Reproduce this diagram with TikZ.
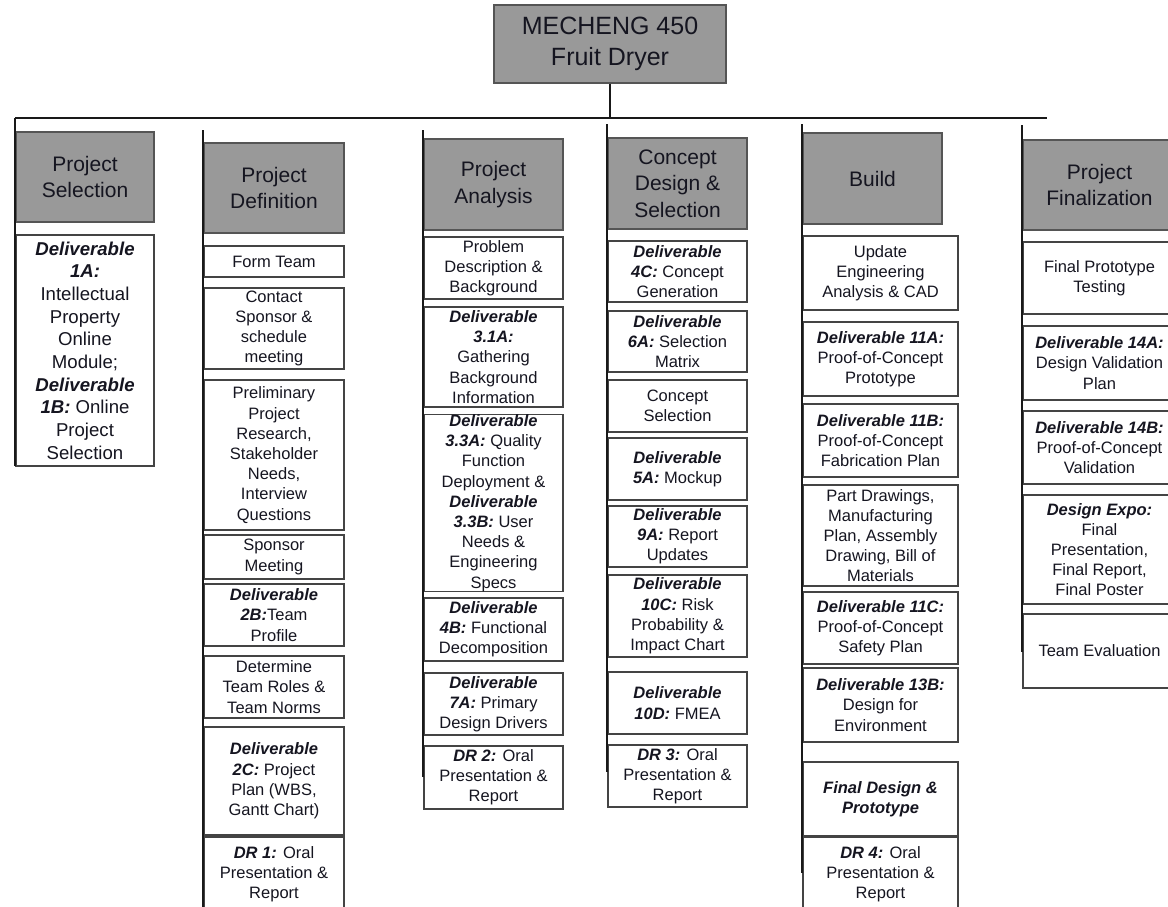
\documentclass[tikz,border=0pt]{standalone}
\usepackage{fontspec}
\setmainfont{Liberation Sans}
\definecolor{hdrfill}{HTML}{999999}
\definecolor{hdrline}{HTML}{555555}
\definecolor{boxline}{HTML}{444444}
\definecolor{txt}{HTML}{151520}
\newcommand\dlv[1]{\textbf{\textit{#1}}}
\newcommand\mybox[7]{%
  \pgfmathsetmacro\mbw{#4-#2}\pgfmathsetmacro\mbh{#5-#3}%
  \node[#6, minimum width=\mbw pt, minimum height=\mbh pt] (#1) at ({(#2+#4)/2},{(#3+#5)/2}) {#7};}
\tikzset{
  hdr/.style={draw=hdrline, fill=hdrfill, line width=1.2pt, align=center, inner sep=0pt, text=txt,
    font=\fontsize{21}{26.5}\selectfont},
  rootbox/.style={hdr, font=\fontsize{25}{31}\selectfont},
  wb/.style={draw=boxline, fill=white, line width=1.1pt, align=center, inner sep=0pt, text=txt,
    font=\fontsize{16.5}{20.2}\selectfont},
  wbl/.style={wb, font=\fontsize{18.6}{22.7}\selectfont},
  conn/.style={line width=2.6pt, draw=black!90},
}
\begin{document}
\begin{tikzpicture}[x=1pt,y=-1pt]
\useasboundingbox (0,0) rectangle (1168,907);
\clip (0,0) rectangle (1168,907);
\fill[white] (0,0) rectangle (1168,907);

% root
\mybox{root}{494}{5}{726}{83}{rootbox}{MECHENG 450\\Fruit Dryer}

% column 1
\mybox{h1}{16}{132}{154}{222}{hdr}{Project\\Selection}
\mybox{b1}{16}{235}{154}{466}{wbl}{\dlv{Deliverable}\\\dlv{1A:}\\Intellectual\\Property\\Online\\Module;\\\dlv{Deliverable}\\\dlv{1B:} Online\\Project\\Selection}

% column 2
\mybox{h2}{204}{143}{344}{233}{hdr}{Project\\Definition}
\mybox{b2a}{204}{246}{344}{277}{wb}{Form Team}
\mybox{b2b}{204}{288}{344}{369}{wb}{Contact\\Sponsor \&\\schedule\\meeting}
\mybox{b2c}{204}{380}{344}{530}{wb}{Preliminary\\Project\\Research,\\Stakeholder\\Needs,\\Interview\\Questions}
\mybox{b2d}{204}{535}{344}{579}{wb}{Sponsor\\Meeting}
\mybox{b2e}{204}{584}{344}{646}{wb}{\dlv{Deliverable}\\\dlv{2B:}Team\\Profile}
\mybox{b2f}{204}{656}{344}{718}{wb}{Determine\\Team Roles \&\\Team Norms}
\mybox{b2g}{204}{727}{344}{835}{wb}{\dlv{Deliverable}\\\dlv{2C:} Project\\Plan (WBS,\\Gantt Chart)}
\mybox{b2h}{204}{837}{344}{912}{wb}{\dlv{DR 1:} Oral\\Presentation \&\\Report}

% column 3
\mybox{h3}{424}{139}{563}{230}{hdr}{Project\\Analysis}
\mybox{b3a}{424}{237}{563}{299}{wb}{Problem\\Description \&\\Background}
\mybox{b3b}{424}{307}{563}{407}{wb}{\dlv{Deliverable}\\\dlv{3.1A:}\\Gathering\\Background\\Information}
\mybox{b3c}{424}{415}{563}{591}{wb}{\dlv{Deliverable}\\\dlv{3.3A:} Quality\\Function\\Deployment \&\\\dlv{Deliverable}\\\dlv{3.3B:} User\\Needs \&\\Engineering\\Specs}
\mybox{b3d}{424}{598}{563}{661}{wb}{\dlv{Deliverable}\\\dlv{4B:} Functional\\Decomposition}
\mybox{b3e}{424}{673}{563}{735}{wb}{\dlv{Deliverable}\\\dlv{7A:} Primary\\Design Drivers}
\mybox{b3f}{424}{746}{563}{809}{wb}{\dlv{DR 2:} Oral\\Presentation \&\\Report}

% column 4
\mybox{h4}{608}{138}{747}{229}{hdr}{Concept\\Design \&\\Selection}
\mybox{b4a}{608}{241}{747}{302}{wb}{\dlv{Deliverable}\\\dlv{4C:} Concept\\Generation}
\mybox{b4b}{608}{311}{747}{372}{wb}{\dlv{Deliverable}\\\dlv{6A:} Selection\\Matrix}
\mybox{b4c}{608}{380}{747}{432}{wb}{Concept\\Selection}
\mybox{b4d}{608}{438}{747}{500}{wb}{\dlv{Deliverable}\\\dlv{5A:} Mockup}
\mybox{b4e}{608}{506}{747}{567}{wb}{\dlv{Deliverable}\\\dlv{9A:} Report\\Updates}
\mybox{b4f}{608}{575}{747}{657}{wb}{\dlv{Deliverable}\\\dlv{10C:} Risk\\Probability \&\\Impact Chart}
\mybox{b4g}{608}{672}{747}{734}{wb}{\dlv{Deliverable}\\\dlv{10D:} FMEA}
\mybox{b4h}{608}{745}{747}{807}{wb}{\dlv{DR 3:} Oral\\Presentation \&\\Report}

% column 5
\mybox{h5}{803}{133}{942}{224}{hdr}{Build}
\mybox{b5a}{803}{236}{958}{310}{wb}{Update\\Engineering\\Analysis \& CAD}
\mybox{b5b}{803}{322}{958}{396}{wb}{\dlv{Deliverable 11A:}\\Proof-of-Concept\\Prototype}
\mybox{b5c}{803}{404}{958}{477}{wb}{\dlv{Deliverable 11B:}\\Proof-of-Concept\\Fabrication Plan}
\mybox{b5d}{803}{485}{958}{586}{wb}{Part Drawings,\\Manufacturing\\Plan, Assembly\\Drawing, Bill of\\Materials}
\mybox{b5e}{803}{592}{958}{664}{wb}{\dlv{Deliverable 11C:}\\Proof-of-Concept\\Safety Plan}
\mybox{b5f}{803}{668}{958}{742}{wb}{\dlv{Deliverable 13B:}\\Design for\\Environment}
\mybox{b5g}{803}{762}{958}{836}{wb}{\dlv{Final Design \&}\\\dlv{Prototype}}
\mybox{b5h}{803}{837}{958}{912}{wb}{\dlv{DR 4:} Oral\\Presentation \&\\Report}

% column 6
\mybox{h6}{1023}{140}{1176}{230}{hdr}{Project\\Finalization}
\mybox{b6a}{1023}{242}{1176}{314}{wb}{Final Prototype\\Testing}
\mybox{b6b}{1023}{326}{1176}{400}{wb}{\dlv{Deliverable 14A:}\\Design Validation\\Plan}
\mybox{b6c}{1023}{411}{1176}{484}{wb}{\dlv{Deliverable 14B:}\\Proof-of-Concept\\Validation}
\mybox{b6d}{1023}{495}{1176}{604}{wb}{\dlv{Design Expo:}\\Final\\Presentation,\\Final Report,\\Final Poster}
\mybox{b6e}{1023}{614}{1176}{688}{wb}{Team Evaluation}

% connector coordinates
\coordinate (barL) at (15,118);
\coordinate (barR) at (1047,118);
\coordinate (c1b) at (15,466);
\coordinate (c2t) at (203,130);  \coordinate (c2b) at (203,907);
\coordinate (c3t) at (423,130);  \coordinate (c3b) at (423,777);
\coordinate (c4t) at (607,124);  \coordinate (c4b) at (607,772);
\coordinate (c5t) at (802,124);  \coordinate (c5b) at (802,873);
\coordinate (c6t) at (1022,125); \coordinate (c6b) at (1022,652);

% connectors
\draw[conn] (root.south) -- (root.south |- barL);
\draw[conn] (barL) -- (barR);
\draw[conn] (barL) -- (c1b);
\draw[conn] (c2t) -- (c2b);
\draw[conn] (c3t) -- (c3b);
\draw[conn] (c4t) -- (c4b);
\draw[conn] (c5t) -- (c5b);
\draw[conn] (c6t) -- (c6b);
\end{tikzpicture}
\end{document}
